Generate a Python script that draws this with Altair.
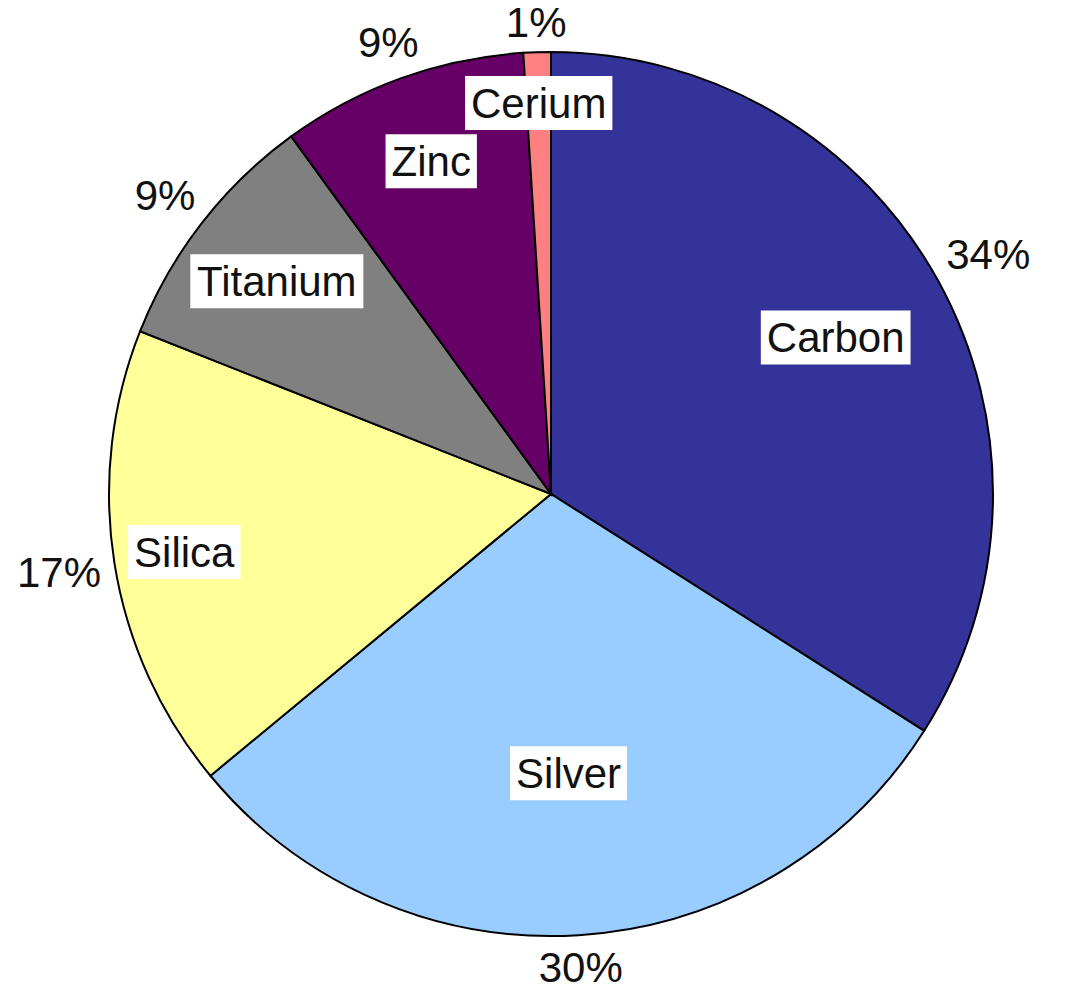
import altair as alt
import pandas as pd
import numpy as np

materials = ["Carbon", "Silver", "Silica", "Titanium", "Zinc", "Cerium"]
shares = [34, 30, 17, 9, 9, 1]
colors = ["#333399", "#99CCFF", "#FFFF99", "#808080", "#660066", "#FF8080"]

# layout: radial placement of the name labels, as a fraction of the pie radius
name_radius_frac = [0.735, 0.633, 0.84, 0.785, 0.80, 0.885]

R = 442          # pie radius (px)
W = 986
H = 988
FS = 42

# approximate Arial/Liberation Sans advance widths (em)
CW = {"C": .722, "a": .556, "r": .333, "b": .556, "o": .556, "n": .556, "S": .667,
      "i": .222, "l": .222, "v": .5, "e": .556, "c": .5, "T": .611, "t": .278,
      "u": .556, "m": .833, "Z": .611, "%": .889}
def tw(s):
    return sum(CW.get(ch, .556) for ch in s) * FS

df = pd.DataFrame({"material": materials, "share": shares, "idx": range(len(shares))})
total = df["share"].sum()
cum = df["share"].cumsum()
mid = (cum - df["share"] / 2) / total * 2 * np.pi
s, c = np.sin(mid), np.cos(mid)
df["pct"] = [f"{v}%" for v in shares]
nr = R * np.array(name_radius_frac)
df["nx"] = nr * s
df["ny"] = nr * c
wn = np.array([tw(m) for m in materials])
df["bx"] = df["nx"] - wn / 2 - 6
df["bx2"] = df["nx"] + wn / 2 + 6
df["by"] = df["ny"] - 27
df["by2"] = df["ny"] + 27
wp = np.array([tw(p) for p in df["pct"]])
off = R + 12 + np.abs(s) * wp / 2 + np.abs(c) * 17
df["px"] = off * s
df["py"] = off * c

xs = alt.Scale(domain=[-W / 2, W / 2])
ys = alt.Scale(domain=[-H / 2, H / 2])
noax = None

base = alt.Chart(df)

pie = base.mark_arc(outerRadius=R, stroke="black", strokeWidth=2).encode(
    theta=alt.Theta("share:Q", stack=True),
    color=alt.Color("material:N", scale=alt.Scale(domain=materials, range=colors), legend=None),
    order=alt.Order("idx:Q"),
)

boxes = base.mark_rect(fill="white").encode(
    x=alt.X("bx:Q", scale=xs, axis=noax),
    x2="bx2:Q",
    y=alt.Y("by:Q", scale=ys, axis=noax),
    y2="by2:Q",
)

names = base.mark_text(font="Liberation Sans", fontSize=FS, color="#111111", baseline="middle", dy=2).encode(
    x=alt.X("nx:Q", scale=xs, axis=noax),
    y=alt.Y("ny:Q", scale=ys, axis=noax),
    text="material:N",
)

pcts = base.mark_text(font="Liberation Sans", fontSize=FS, color="#111111", baseline="middle", dy=2).encode(
    x=alt.X("px:Q", scale=xs, axis=noax),
    y=alt.Y("py:Q", scale=ys, axis=noax),
    text="pct:N",
)

chart = alt.layer(pie, boxes, names, pcts).properties(
    width=W, height=H,
    autosize=alt.AutoSizeParams(type="none"),
    padding={"left": 58, "top": 0, "right": 20, "bottom": 20},
    background="white",
).configure_view(stroke=None)

chart.save("out.html", embed_options={"renderer": "svg", "actions": False})
